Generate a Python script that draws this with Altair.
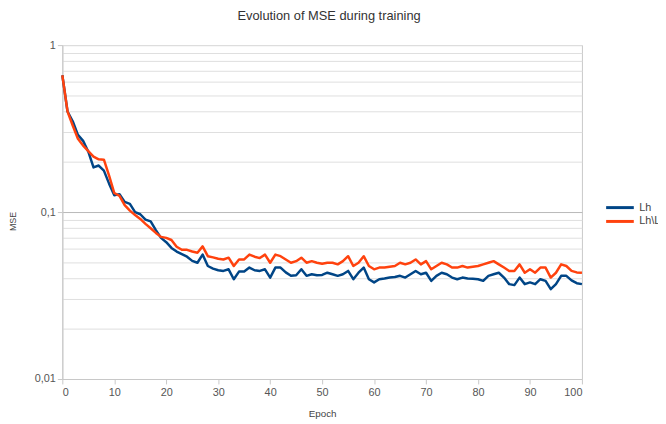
import altair as alt
import pandas as pd

epochs = list(range(101))

lh = [0.66, 0.40, 0.35, 0.29, 0.267, 0.23, 0.185, 0.19, 0.177, 0.148,
      0.126, 0.128, 0.115, 0.112, 0.1, 0.097, 0.09, 0.088, 0.078, 0.07,
      0.066, 0.061, 0.058, 0.056, 0.054, 0.051, 0.0497, 0.0556, 0.0475, 0.0458,
      0.0448, 0.0444, 0.0454, 0.0396, 0.044, 0.044, 0.0465, 0.0448, 0.0444, 0.0454,
      0.0405, 0.0465, 0.0465, 0.0435, 0.0415, 0.0418, 0.0454, 0.0415, 0.0424, 0.0418,
      0.042, 0.0433, 0.0424, 0.0415, 0.0424, 0.0444, 0.0396, 0.0433, 0.0465, 0.0396,
      0.0379, 0.0396, 0.040, 0.0405, 0.0408, 0.0415, 0.0405, 0.0424, 0.0444, 0.0424,
      0.0433, 0.0387, 0.0415, 0.0433, 0.0424, 0.0405, 0.0396, 0.0405, 0.040, 0.0398,
      0.0396, 0.0387, 0.0415, 0.0424, 0.0433, 0.0405, 0.037, 0.0365, 0.0405, 0.037,
      0.0379, 0.037, 0.0396, 0.0387, 0.0345, 0.037, 0.0415, 0.0415, 0.039, 0.0375,
      0.037]

lhlu = [0.66, 0.40, 0.33, 0.275, 0.25, 0.232, 0.215, 0.207, 0.206, 0.165,
        0.13, 0.125, 0.11, 0.102, 0.096, 0.091, 0.085, 0.08, 0.075, 0.071,
        0.07, 0.068, 0.062, 0.0594, 0.0594, 0.058, 0.057, 0.0623, 0.0544, 0.0535,
        0.0525, 0.052, 0.0533, 0.0475, 0.052, 0.052, 0.0556, 0.054, 0.053, 0.0556,
        0.0497, 0.0556, 0.0544, 0.052, 0.0497, 0.0508, 0.0533, 0.0497, 0.0508, 0.0497,
        0.049, 0.0497, 0.0497, 0.0486, 0.0508, 0.0544, 0.0475, 0.0497, 0.0544, 0.0475,
        0.0454, 0.0465, 0.0465, 0.047, 0.0475, 0.0497, 0.0486, 0.0497, 0.052, 0.0486,
        0.0508, 0.0454, 0.0475, 0.0497, 0.0486, 0.0465, 0.0465, 0.0475, 0.0465, 0.047,
        0.0475, 0.0486, 0.0497, 0.0508, 0.0486, 0.0465, 0.0444, 0.0444, 0.0486, 0.0433,
        0.0454, 0.0433, 0.0465, 0.0465, 0.0405, 0.0433, 0.0486, 0.0475, 0.0444, 0.0435,
        0.0433]

series_names = ["Lh", "Lh\\Lu"]
series_colors = ["#004586", "#ff420e"]

x_ticks = list(range(0, 101, 10))
y_grid = [m * 10.0 ** e for e in (-2, -1) for m in range(1, 10)] + [1.0]
y_grid = [round(v, 6) for v in y_grid]

df = pd.DataFrame({
    "Epoch": epochs * 2,
    "MSE": lh + lhlu,
    "Series": [series_names[0]] * len(epochs) + [series_names[1]] * len(epochs),
    "order": [0] * len(epochs) + [1] * len(epochs),
})

is_decade = "abs(log(datum.value)/LN10 - round(log(datum.value)/LN10)) < 0.001"

chart = alt.Chart(df).mark_line(strokeWidth=2.5, strokeJoin="round").encode(
    x=alt.X("Epoch:Q",
            scale=alt.Scale(domain=[0, 100], nice=False, zero=False),
            axis=alt.Axis(values=x_ticks, grid=False, title="Epoch",
                          labelFontSize=11, labelColor="#555555",
                          titleFontSize=10, titleFontWeight="normal", titleColor="#444444",
                          titlePadding=11,
                          domainColor="#c8c8c8", tickColor="#c8c8c8", tickSize=5,
                          labelPadding=3)),
    y=alt.Y("MSE:Q",
            scale=alt.Scale(type="log", domain=[0.01, 1], nice=False),
            axis=alt.Axis(values=y_grid, title="MSE",
                          labelExpr="datum.value == 1 ? '1' : (abs(datum.value - 0.1) < 1e-9 ? '0,1' : (abs(datum.value - 0.01) < 1e-9 ? '0,01' : ''))",
                          labelFontSize=11, labelColor="#555555",
                          titleFontSize=9, titleFontWeight="normal", titleColor="#444444",
                          titleAngle=-90, titleX=-50, titleY=178,
                          titleAlign="center", titleBaseline="middle",
                          domainColor="#c8c8c8", tickSize=5, labelPadding=2,
                          tickColor="#c8c8c8",
                          tickOpacity={"condition": {"test": is_decade, "value": 1}, "value": 0},
                          gridColor={"condition": {"test": "abs(datum.value - 0.1) < 1e-9", "value": "#b8b8b8"}, "value": "#dedede"},
                          gridWidth=1)),
    color=alt.Color("Series:N",
                    scale=alt.Scale(domain=series_names, range=series_colors),
                    legend=alt.Legend(title=None, orient="none", legendX=559, legendY=159,
                                      symbolType="M-4,0H4", symbolStrokeWidth=3,
                                      symbolSize=49, labelFontSize=11, labelColor="#444444",
                                      labelOffset=14, padding=0, rowPadding=1, labelLimit=300)),
    order=alt.Order("order:Q"),
).properties(
    width=526, height=338,
    title=alt.TitleParams("Evolution of MSE during training", fontSize=13,
                          fontWeight="normal", color="#333333", offset=16, dx=7),
    autosize=alt.AutoSizeParams(type="none"),
    padding={"left": 55, "top": 35, "right": 77, "bottom": 43},
).configure(font="Liberation Sans").configure_view(stroke="#c8c8c8", strokeWidth=1)

chart.save("out.html", embed_options={"renderer": "svg", "actions": False})
